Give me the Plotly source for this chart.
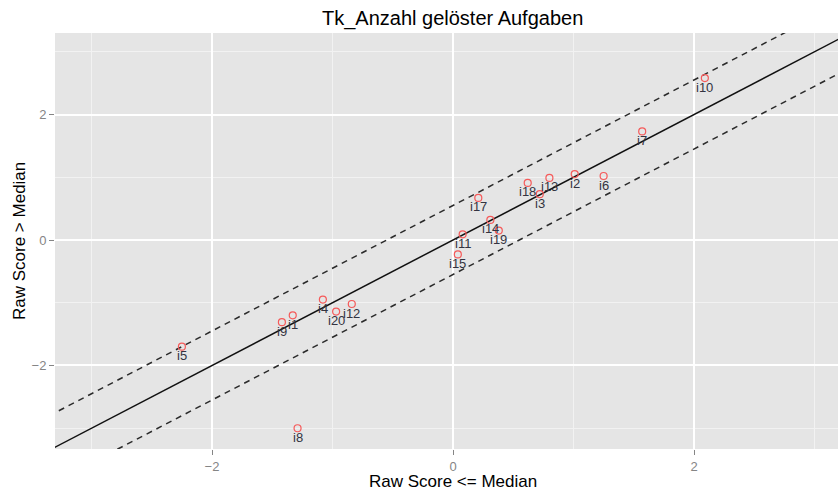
import plotly.graph_objects as go

# ---- data ----
items = ["i1", "i2", "i3", "i4", "i5", "i6", "i7", "i8", "i9", "i10",
         "i11", "i12", "i13", "i14", "i15", "i17", "i18", "i19", "i20"]
raw_le_median = [-1.33, 1.01, 0.72, -1.08, -2.25, 1.25, 1.57, -1.29, -1.42, 2.09,
                 0.08, -0.84, 0.80, 0.31, 0.04, 0.21, 0.62, 0.38, -0.97]
raw_gt_median = [-1.20, 1.05, 0.73, -0.95, -1.70, 1.02, 1.73, -3.00, -1.31, 2.58,
                 0.09, -1.02, 0.99, 0.32, -0.23, 0.67, 0.91, 0.15, -1.14]
band_offset = 0.55
x_range = [-3.303, 3.195]
y_range = [-3.331, 3.299]
tick_vals = [-2, 0, 2]
tick_text = ["\u22122", "0", "2"]
minor_vals = [-3, -1, 1, 3]

FONT = "Liberation Sans, Arial, Helvetica, sans-serif"
GREY = "#858585"

line_x = [-4, 4]
fig = go.Figure()
fig.add_trace(go.Scatter(x=line_x, y=[v + band_offset for v in line_x], mode="lines",
                         line=dict(color="#2a2a2a", width=1.5, dash="6px,5px"),
                         hoverinfo="skip", showlegend=False))
fig.add_trace(go.Scatter(x=line_x, y=[v - band_offset for v in line_x], mode="lines",
                         line=dict(color="#2a2a2a", width=1.5, dash="6px,5px"),
                         hoverinfo="skip", showlegend=False))
fig.add_trace(go.Scatter(x=line_x, y=line_x, mode="lines",
                         line=dict(color="#111111", width=1.5),
                         hoverinfo="skip", showlegend=False))
fig.add_trace(go.Scatter(x=raw_le_median, y=raw_gt_median, mode="markers",
                         marker=dict(symbol="circle-open", size=7,
                                     color="rgb(245,90,90)", line=dict(width=1.2)),
                         text=items, showlegend=False, cliponaxis=False))

for name, xv, yv in zip(items, raw_le_median, raw_gt_median):
    fig.add_annotation(x=xv, y=yv, text=name, showarrow=False, yshift=-9,
                       xanchor="center", yanchor="middle",
                       font=dict(family=FONT, size=13, color="#333340"))

L, R, T, B = 55, 0, 33, 44
W, H = 838, 493
pw, ph = W - L - R, H - T - B

fig.add_annotation(xref="paper", yref="paper", x=(452 - L) / pw, y=1 + (T - 19) / ph,
                   xanchor="center", yanchor="middle",
                   text="Tk_Anzahl gelöster Aufgaben", showarrow=False,
                   font=dict(family=FONT, size=20, color="#000000"))
fig.add_annotation(xref="paper", yref="paper", x=(453 - L) / pw, y=-(481 - (H - B)) / ph,
                   xanchor="center", yanchor="middle",
                   text="Raw Score <= Median", showarrow=False,
                   font=dict(family=FONT, size=17, color="#000000"))
fig.add_annotation(xref="paper", yref="paper", x=(19 - L) / pw, y=(H - B - 241) / ph,
                   xanchor="center", yanchor="middle",
                   text="Raw Score > Median", showarrow=False, textangle=-90,
                   font=dict(family=FONT, size=17, color="#000000"))

axis_common = dict(showgrid=True, gridcolor="#FFFFFF", gridwidth=1.6, zeroline=False,
                   ticks="outside", ticklen=5, tickwidth=1, tickcolor=GREY,
                   tickfont=dict(family=FONT, size=13, color=GREY), showline=False,
                   minor=dict(tickmode="array", tickvals=minor_vals, showgrid=True,
                              gridcolor="#F2F2F2", gridwidth=1, ticks=""))
fig.update_xaxes(range=x_range, tickmode="array", tickvals=tick_vals,
                 ticktext=tick_text, **axis_common)
fig.update_yaxes(range=y_range, tickmode="array", tickvals=tick_vals,
                 ticktext=tick_text, **axis_common)

fig.update_layout(width=W, height=H, margin=dict(l=L, r=R, t=T, b=B),
                  plot_bgcolor="#E5E5E5", paper_bgcolor="#FFFFFF",
                  font=dict(family=FONT), showlegend=False)

fig.write_html("out.html", config={"displayModeBar": False},
               post_script="document.body.style.margin='0';document.body.style.overflow='hidden';")
